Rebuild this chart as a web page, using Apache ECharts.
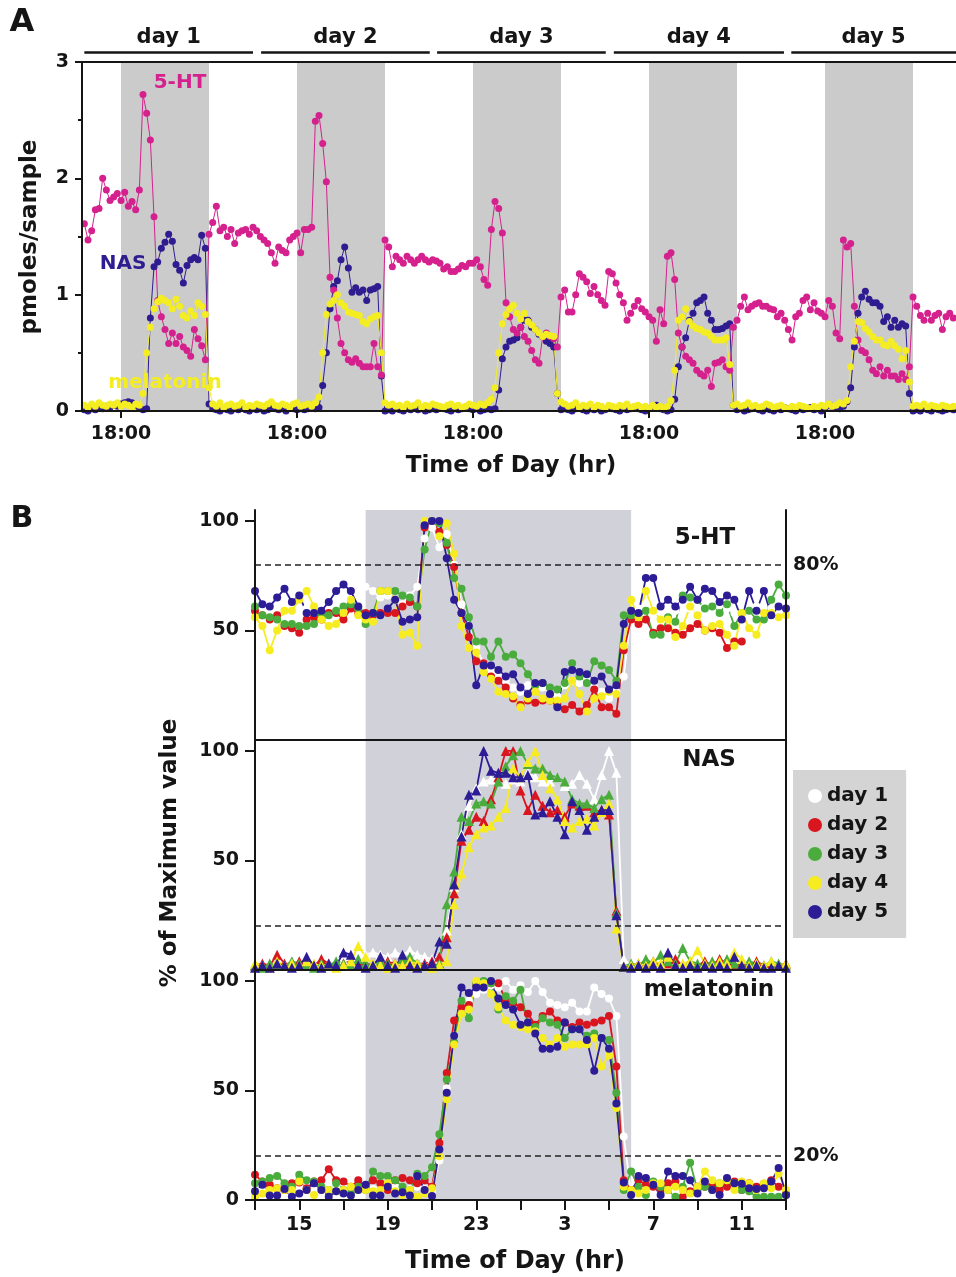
<!DOCTYPE html>
<html><head><meta charset="utf-8">
<script src="https://cdn.jsdelivr.net/npm/echarts@6/dist/echarts.min.js"></script>
<style>html,body{margin:0;padding:0;background:#fff}#c{width:956px;height:1277px}</style>
</head><body><div id="c"></div>
<script>
// ---------- Panel A data (pmoles/sample), samples every 0.5 h from 13:00 day 1 ----------
const aStart = 13, aStep = 0.5;
const ht5A = [1.61,1.47,1.55,1.73,1.74,2.0,1.9,1.81,1.84,1.87,
1.81,1.88,1.76,1.8,1.73,1.9,2.72,2.56,2.33,1.67,
0.95,0.81,0.7,0.58,0.67,0.58,0.64,0.55,0.52,0.47,
0.7,0.62,0.56,0.44,1.52,1.62,1.76,1.55,1.58,1.5,
1.56,1.44,1.53,1.55,1.56,1.52,1.58,1.55,1.5,1.47,
1.44,1.36,1.27,1.41,1.38,1.36,1.47,1.5,1.53,1.36,
1.56,1.56,1.58,2.49,2.54,2.3,1.97,1.15,1.04,0.8,
0.58,0.5,0.44,0.42,0.45,0.41,0.38,0.38,0.38,0.58,
0.38,0.31,1.47,1.41,1.24,1.33,1.3,1.27,1.33,1.3,
1.27,1.3,1.33,1.3,1.28,1.3,1.29,1.27,1.22,1.24,
1.2,1.2,1.22,1.25,1.24,1.27,1.27,1.3,1.24,1.13,
1.08,1.56,1.8,1.74,1.53,0.93,0.81,0.7,0.67,0.72,
0.64,0.6,0.52,0.44,0.41,0.64,0.67,0.64,0.62,0.55,
0.98,1.04,0.85,0.85,1.0,1.18,1.15,1.11,1.01,1.07,
1.0,0.95,0.91,1.2,1.18,1.1,1.0,0.93,0.78,0.84,
0.9,0.95,0.88,0.85,0.81,0.78,0.6,0.87,0.75,1.33,
1.36,1.13,0.67,0.55,0.47,0.44,0.41,0.35,0.32,0.3,
0.35,0.21,0.41,0.42,0.44,0.38,0.35,0.72,0.78,0.9,
0.98,0.87,0.9,0.92,0.93,0.9,0.9,0.88,0.87,0.81,
0.84,0.78,0.7,0.61,0.81,0.84,0.95,0.98,0.87,0.93,
0.86,0.84,0.81,0.95,0.9,0.67,0.62,1.47,1.41,1.44,
0.9,0.61,0.52,0.5,0.44,0.35,0.32,0.38,0.3,0.35,
0.3,0.3,0.27,0.32,0.27,0.38,0.98,0.9,0.82,0.78,
0.84,0.78,0.82,0.84,0.7,0.81,0.84,0.8];
const nasA = [0.01,0.0,0.02,0.01,0.03,0.02,0.04,0.03,0.05,0.04,
0.06,0.07,0.08,0.07,0.05,0.03,0.01,0.02,0.8,1.24,
1.28,1.4,1.45,1.52,1.46,1.26,1.21,1.1,1.25,1.3,
1.32,1.3,1.51,1.4,0.06,0.02,0.01,0.0,0.02,0.01,
0.0,0.02,0.01,0.03,0.01,0.0,0.02,0.01,0.02,0.0,
0.01,0.03,0.02,0.01,0.02,0.0,0.03,0.02,0.01,0.02,
0.01,0.02,0.03,0.02,0.03,0.22,0.5,0.88,1.07,1.12,
1.3,1.41,1.23,1.02,1.06,1.02,1.04,0.95,1.04,1.05,
1.07,0.3,0.0,0.01,0.0,0.02,0.01,0.0,0.02,0.01,
0.03,0.01,0.02,0.0,0.01,0.02,0.01,0.03,0.02,0.01,
0.0,0.02,0.01,0.02,0.03,0.02,0.01,0.02,0.0,0.01,
0.02,0.01,0.02,0.18,0.45,0.55,0.6,0.61,0.63,0.72,
0.78,0.78,0.72,0.7,0.66,0.64,0.6,0.58,0.55,0.15,
0.01,0.02,0.01,0.0,0.02,0.03,0.01,0.0,0.02,0.01,
0.02,0.0,0.01,0.03,0.02,0.01,0.0,0.02,0.01,0.02,
0.03,0.02,0.01,0.0,0.02,0.03,0.05,0.02,0.01,0.0,
0.01,0.1,0.38,0.55,0.63,0.78,0.84,0.93,0.95,0.98,
0.84,0.78,0.7,0.7,0.71,0.73,0.75,0.05,0.01,0.02,
0.0,0.01,0.02,0.03,0.01,0.0,0.02,0.01,0.0,0.02,
0.01,0.03,0.02,0.01,0.0,0.02,0.01,0.02,0.03,0.01,
0.02,0.0,0.03,0.05,0.04,0.03,0.02,0.04,0.08,0.2,
0.55,0.84,0.98,1.03,0.96,0.93,0.93,0.9,0.77,0.81,
0.72,0.78,0.72,0.75,0.73,0.15,0.0,0.01,0.0,0.02,
0.01,0.0,0.02,0.01,0.0,0.01,0.02,0.01];
const melA = [0.05,0.03,0.06,0.04,0.07,0.05,0.04,0.06,0.05,0.07,
0.04,0.06,0.05,0.03,0.06,0.05,0.15,0.5,0.72,0.88,
0.94,0.97,0.95,0.93,0.88,0.96,0.9,0.82,0.8,0.86,
0.82,0.93,0.9,0.83,0.2,0.06,0.04,0.07,0.03,0.05,
0.06,0.04,0.05,0.07,0.03,0.05,0.04,0.06,0.05,0.04,
0.06,0.08,0.05,0.04,0.06,0.05,0.03,0.06,0.07,0.04,
0.05,0.06,0.04,0.07,0.12,0.5,0.83,0.92,0.95,1.0,
0.93,0.9,0.85,0.84,0.83,0.82,0.77,0.75,0.79,0.81,
0.82,0.5,0.07,0.05,0.06,0.04,0.05,0.03,0.06,0.04,
0.05,0.07,0.03,0.05,0.04,0.06,0.05,0.04,0.03,0.05,
0.06,0.04,0.05,0.03,0.04,0.06,0.05,0.04,0.06,0.05,
0.07,0.1,0.2,0.5,0.75,0.83,0.88,0.91,0.84,0.79,
0.84,0.77,0.74,0.7,0.67,0.64,0.66,0.65,0.64,0.15,
0.08,0.06,0.04,0.05,0.07,0.03,0.05,0.04,0.06,0.03,
0.05,0.04,0.02,0.05,0.04,0.03,0.05,0.04,0.06,0.03,
0.04,0.05,0.03,0.04,0.02,0.05,0.03,0.04,0.02,0.04,
0.09,0.35,0.78,0.81,0.88,0.77,0.73,0.71,0.7,0.68,
0.67,0.64,0.61,0.61,0.61,0.63,0.4,0.05,0.06,0.04,
0.05,0.07,0.04,0.05,0.03,0.04,0.06,0.05,0.03,0.04,
0.05,0.03,0.02,0.04,0.03,0.05,0.04,0.03,0.02,0.04,
0.03,0.05,0.04,0.06,0.04,0.05,0.07,0.06,0.09,0.38,
0.6,0.77,0.76,0.71,0.68,0.64,0.61,0.61,0.57,0.56,
0.6,0.56,0.53,0.45,0.52,0.25,0.04,0.05,0.04,0.06,
0.03,0.05,0.04,0.03,0.05,0.04,0.03,0.04];
const darkStartA = [18,42,66,90,114], darkEndA = [30,54,78,102,126];
const dayLabels = ['day 1','day 2','day 3','day 4','day 5'];
const dayBarStart = [13,37.1,61.1,85.2,109.4], dayBarEnd = [36,60.1,84.1,108.4,131.86];
const tickA = [18,42,66,90,114];
const tickALabel = '18:00';

// ---------- Panel B data (% of max), samples every 20 min from 13:00 ----------
const bStart = 13, bStep = 1/3;
const htD1 = [60,58,57,59,55,56,57,60,58,56,59,62,60,63,68,70,68,65,66,64,62,66,70,
92,97,88,94,80,62,52,42,35,32,29,27,24,22,25,26,24,22,20,
25,27,26,28,24,22,19,22,29,58,60,62,58,60,57,59,62,60,58,61,59,57,60,58,56,59,61,58,60,57,59];
const htD2 = [59,57,55,57,52,51,49,55,56,55,58,58,55,60,58,58,57,58,58,58,61,63,61,97,100,95,89,79,58,47,
36,35,29,27,24,19,16,18,17,18,18,16,
14,16,13,16,23,15,15,12,41,55,53,55,49,51,51,49,48,51,53,50,51,49,42,45,45,null,null,null,null,null,null];
const htD3 = [61,57,56,55,53,53,52,52,53,57,57,59,61,62,60,53,58,68,68,68,66,65,61,87,100,99,90,74,69,56,
45,45,38,45,38,39,35,30,25,26,24,23,
26,35,29,26,36,34,32,27,57,57,56,59,48,48,56,54,66,65,64,60,61,58,62,52,58,59,55,55,64,71,66];
const htD4 = [56,52,41,50,59,59,64,68,61,55,52,53,58,64,57,55,54,68,68,64,48,49,43,100,100,93,99,85,52,42,
40,31,28,22,21,20,15,19,22,19,18,18,
19,27,21,13,19,20,22,21,43,64,56,68,59,55,55,47,52,61,57,50,52,53,48,43,58,51,48,58,58,56,57];
const htD5 = [68,62,61,65,69,63,66,58,58,59,63,68,71,68,61,57,58,57,60,64,54,55,56,98,100,100,83,64,58,52,
25,34,34,32,29,30,24,21,26,26,21,15,
31,32,31,30,27,29,23,25,53,59,58,74,74,61,64,61,64,70,64,69,68,63,66,64,55,68,59,68,57,61,60];
const nasD1 = [2,1,2,3,2,1,2,3,2,1,3,2,4,3,6,7,8,7,6,8,7,9,7,6,
5,6,18,38,62,75,83,86,87,88,85,87,86,90,88,86,86,88,84,85,89,85,78,89,100,90,5,
2,1,2,3,2,1,2,3,2,1,2,3,2,1,2,1,2,3,2,1,2,1];
const nasD2 = [2,3,2,7,3,2,4,3,2,5,3,2,3,4,2,3,2,3,4,3,2,3,2,3,4,6,
15,35,59,64,70,68,78,88,100,100,82,73,80,75,72,73,70,76,75,75,72,73,71,27,1.5,
2,3,2,4,2,3,5,2,3,2,4,2,5,3,2,3,2,4,2,3,2,3];
const nasD3 = [2,1,3,2,2,4,3,2,1,3,2,4,3,2,5,3,2,4,3,2,5,6,3,2,2,3,
30,45,70,68,76,77,76,86,93,98,100,94,92,92,89,88,86,78,76,76,74,78,80,26,1.5,
3,2,5,3,7,4,3,10,4,3,2,4,3,5,3,2,4,3,2,4,3,2];
const nasD4 = [3,2,1,4,2,3,2,4,3,2,3,1,2,4,11,6,3,2,1,3,2,4,3,2,1,2,4,
30,44,56,62,65,66,70,74,92,88,95,100,89,83,78,68,65,68,69,66,72,76,19,1.5,
2,3,2,4,3,6,2,3,4,9,3,2,4,3,8,5,2,3,2,4,2,3];
const nasD5 = [1,2,1,3,2,1,2,6,2,1,3,2,8,7,2,1,2,6,2,1,7,2,1,2,
3,13,12,39,61,80,82,100,91,90,90,88,88,89,71,72,77,70,62,77,73,64,70,73,73,25,1.5,
1,2,1,2,1,8,2,1,2,1,2,1,2,1,6,2,1,2,1,1,2,1];
const melD1 = [5,4,6,3,5,4,6,5,4,3,5,6,4,5,4,6,5,4,5,6,4,5,6,5,
4,18,51,75,88,91,94,96,98,97,100,96,98,95,100,95,90,89,88,90,86,86,97,94,92,84,29,
3,5,4,6,3,5,4,3,5,4,6,3,4,5,3,4,5,4,3,4,5,3];
const melD2 = [11.5,8.4,7,5.4,4.6,7.7,8,5.4,8.4,9,14,9,8.4,6,9,6,9,7.7,4.6,9,10,9,7.7,9,6,26,58,82,88,89,
98,99,99,99,91,90,88,85,80,84,86,82,
81,79,81,80,81,82,84,61,9,4.6,9,7,6,4.6,7.7,8.4,1.5,4,6,6,7,4.6,6,8.4,4.6,7.7,6,7.4,9,6,3];
const melD3 = [7.7,8.4,10,11,7.7,6,11.5,9,8.4,6,4.6,7.7,4.6,3,6,4.6,13,11,11,9,6,4.6,12,11,15,30,55,72,91,83,
99,100,99,87,93,91,96,80,79,83,81,80,
74,78,78,75,76,74,73,49,4.6,13,6,2.3,8.4,6,4.6,1.5,6,17,4.6,6,4.6,7.7,9,7.7,4.6,4,1.5,1.5,1.5,1.5,2.3];
const melD4 = [1.5,3,4.6,5.4,4.6,4.6,8.4,4.6,2.3,4.6,4.6,4,4.6,6,4.6,4.6,4,4.6,7.7,4,2.3,4.6,1.5,3,5.4,20,46,71,85,87,
100,99,94,88,82,80,79,78,77,74,71,74,
70,71,71,71,74,61,66,42,6,4.6,3,4.6,7.7,7.7,4.6,6,4.6,3,6,13,9,7.7,9,4.6,8.4,7.7,4.6,7.7,5.4,12,4.6];
const melD5 = [4,7,2,2,5,1.5,3,4.6,7.7,4.6,1.5,4,3,2,4.6,7,2,2,6,3,3.5,2,11,4.6,1.8,23,49,75,97,94.5,
97,97,100,92,89,87,80,81,76,69,69,70,
81,78,78,73,59,74,69,44,8,2.3,11,10,7,2.3,13,11,11,9,3,8.4,4.6,2.3,10,7.7,7.4,5.4,5,5.4,8.4,14.6,2.3];
const darkB = [18, 30];
const tickB = [13,15,17,19,21,23,25,27,29,31,33,35,37];
const labelB = [15,19,23,27,31,35];
const refLevels = [80, 20, 20];
const refLabels = ['80%', '', '20%'];
const panelNames = ['5-HT', 'NAS', 'melatonin'];

// ---------- chart ----------
const FF = '"DejaVu Sans", "Liberation Sans", sans-serif';
const INK = '#151515';
const chart = echarts.init(document.getElementById('c'), null, {width:956, height:1277});

const toXY = (arr, t0, dt) => arr.map((v, i) => [t0 + i * dt, v == null ? '-' : v]);

const grids = [
  {left:82, top:62, width:874, height:349},
  {left:82, top:20, width:874, height:32},
  {left:255, top:510, width:531, height:230},
  {left:255, top:740, width:531, height:230},
  {left:255, top:970, width:531, height:230}
];
const lineAx = (w) => ({show:true, lineStyle:{color:INK, width:w}});
const bareX = (g, pos, min, max) => ({type:'value', gridIndex:g, position:pos, min, max, z:10,
  axisLine:lineAx(2), axisTick:{show:false}, axisLabel:{show:false}, splitLine:{show:false}});
const xAxes = [
  {type:'value', gridIndex:0, position:'bottom', min:12.68, max:131.86, z:10,
   axisLine:lineAx(2), splitLine:{show:false},
   axisTick:{show:true, inside:false, length:7, customValues:tickA, lineStyle:{color:INK, width:2}},
   axisLabel:{show:true, customValues:tickA, margin:14, formatter:() => tickALabel,
     fontFamily:FF, fontWeight:'bold', fontSize:19, color:INK}},
  bareX(0, 'top', 12.68, 131.86),
  {type:'value', gridIndex:1, min:12.68, max:131.86, show:false},
  bareX(2, 'bottom', 13, 37),
  bareX(2, 'top', 13, 37),
  bareX(3, 'bottom', 13, 37),
  {type:'value', gridIndex:4, position:'bottom', min:13, max:37, z:10,
   axisLine:lineAx(2), splitLine:{show:false},
   axisTick:{show:true, inside:false, length:10, customValues:tickB, lineStyle:{color:INK, width:2}},
   axisLabel:{show:true, customValues:labelB, margin:16, formatter:v => String(v % 24),
     fontFamily:FF, fontWeight:'bold', fontSize:19, color:INK}}
];
const leftYB = (g, vals) => ({type:'value', gridIndex:g, position:'left', min:0, max:105, z:10,
  axisLine:lineAx(2), splitLine:{show:false},
  axisTick:{show:true, inside:false, length:10, customValues:vals, lineStyle:{color:INK, width:2}},
  axisLabel:{show:true, customValues:vals, margin:16, fontFamily:FF, fontWeight:'bold', fontSize:19, color:INK}});
const rightYB = (g) => ({type:'value', gridIndex:g, position:'right', min:0, max:105, z:10,
  axisLine:lineAx(2), axisTick:{show:false}, axisLabel:{show:false}, splitLine:{show:false}});
const yAxes = [
  {type:'value', gridIndex:0, min:0, max:3, interval:1, z:10, axisLine:lineAx(2), splitLine:{show:false},
   axisTick:{show:true, inside:false, length:7, lineStyle:{color:INK, width:2}},
   minorTick:{show:true, splitNumber:2, length:4, lineStyle:{color:INK, width:2}},
   axisLabel:{margin:13, fontFamily:FF, fontWeight:'bold', fontSize:19, color:INK}},
  {type:'value', gridIndex:1, min:0, max:1, show:false},
  leftYB(2, [50,100]), rightYB(2),
  leftYB(3, [50,100]), rightYB(3),
  leftYB(4, [0,50,100]), rightYB(4)
];

const series = [];
// Panel A dark bands
series.push({type:'line', xAxisIndex:0, yAxisIndex:0, data:[], z:1, silent:true,
  markArea:{silent:true, itemStyle:{color:'#cbcbcb'},
    data: darkStartA.map((s, i) => [{xAxis:s}, {xAxis:darkEndA[i]}])}});
// Panel A day bars
series.push({type:'line', xAxisIndex:2, yAxisIndex:1, data:[], silent:true,
  markLine:{silent:true, symbol:['none','none'], animation:false,
    lineStyle:{color:INK, width:2.5, type:'solid'},
    label:{show:true, position:'insideMiddleTop', distance:4, formatter:'{b}',
      fontFamily:FF, fontWeight:'bold', fontSize:21, color:INK},
    data: dayBarStart.map((s, i) => [{name:dayLabels[i], coord:[s, 0]}, {coord:[dayBarEnd[i], 0]}])}});
const aSeries = [
  {name:'NAS', data:nasA, color:'#2e1c90'},
  {name:'5-HT', data:ht5A, color:'#d5218d'},
  {name:'melatonin', data:melA, color:'#f3ed22'}
];
aSeries.forEach(s => series.push({type:'line', name:s.name, xAxisIndex:0, yAxisIndex:0, z:3, clip:false,
  data: toXY(s.data, aStart, aStep), symbol:'circle', symbolSize:7, showAllSymbol:true,
  itemStyle:{color:s.color}, lineStyle:{color:s.color, width:1}}));

// Panel B
const dayColors = ['#ffffff','#d9161f','#4aac3c','#f7ec1f','#2c1c96'];
const panelsB = [
  {grid:2, x:3, y:2, sym:'circle', size:8, days:[htD1,htD2,htD3,htD4,htD5]},
  {grid:3, x:5, y:4, sym:'triangle', size:10, days:[nasD1,nasD2,nasD3,nasD4,nasD5]},
  {grid:4, x:6, y:6, sym:'circle', size:8, days:[melD1,melD2,melD3,melD4,melD5]}
];
panelsB.forEach((p, pi) => {
  series.push({type:'line', xAxisIndex:p.x, yAxisIndex:p.y, data:[], z:1, silent:true,
    markArea:{silent:true, itemStyle:{color:'#d1d1d9'}, data:[[{xAxis:darkB[0]}, {xAxis:darkB[1]}]]},
    markLine:{silent:true, symbol:['none','none'], animation:false,
      lineStyle:{color:'#222', width:1.6, type:[6,4]},
      label:{show:refLabels[pi] !== '', position:'end', distance:7, formatter:refLabels[pi],
        fontFamily:FF, fontWeight:'bold', fontSize:19, color:INK},
      data:[{yAxis:refLevels[pi]}]}});
  p.days.forEach((arr, d) => series.push({type:'line', name:dayLabels[d], xAxisIndex:p.x, yAxisIndex:p.y,
    z:3, clip:false, data: toXY(arr, bStart, bStep), symbol:p.sym, symbolSize:p.size, showAllSymbol:true,
    connectNulls:false,
    itemStyle:{color:dayColors[d]}, lineStyle:{color:dayColors[d], width:1.8}}));
});

const txt = (text, x, y, size, color, rot) => ({type:'text', x, y, rotation: rot || 0, z:20,
  style:{text, fill: color || INK, font:`bold ${size}px ${FF}`, textAlign:'center', textVerticalAlign:'middle'}});

chart.setOption({
  animation:false,
  backgroundColor:'#ffffff',
  grid: grids,
  xAxis: xAxes,
  yAxis: yAxes,
  series,
  legend:{data:dayLabels, orient:'vertical', left:793, top:770, icon:'circle', itemWidth:14, itemHeight:14,
    itemGap:9, itemTextGap:9, selectedMode:false, backgroundColor:'#d4d4d4', padding:[16,18,16,15],
    textStyle:{fontFamily:FF, fontWeight:'bold', fontSize:20, lineHeight:20, color:INK}},
  graphic: [
    txt('A', 22, 23, 32),
    txt('B', 22, 519, 30),
    txt('5-HT', 180, 83, 20, '#d5218d'),
    txt('NAS', 123, 264, 20, '#2e1c90'),
    txt('melatonin', 165, 383, 20, '#f3ed22'),
    txt('pmoles/sample', 30, 237, 23, INK, Math.PI/2),
    txt('Time of Day (hr)', 511, 466, 23),
    txt(panelNames[0], 705, 538, 23),
    txt(panelNames[1], 709, 760, 23),
    txt(panelNames[2], 709, 990, 23),
    txt('% of Maximum value', 170, 853, 23, INK, Math.PI/2),
    txt('Time of Day (hr)', 515, 1262, 24)
  ]
});
</script>
</body></html>
